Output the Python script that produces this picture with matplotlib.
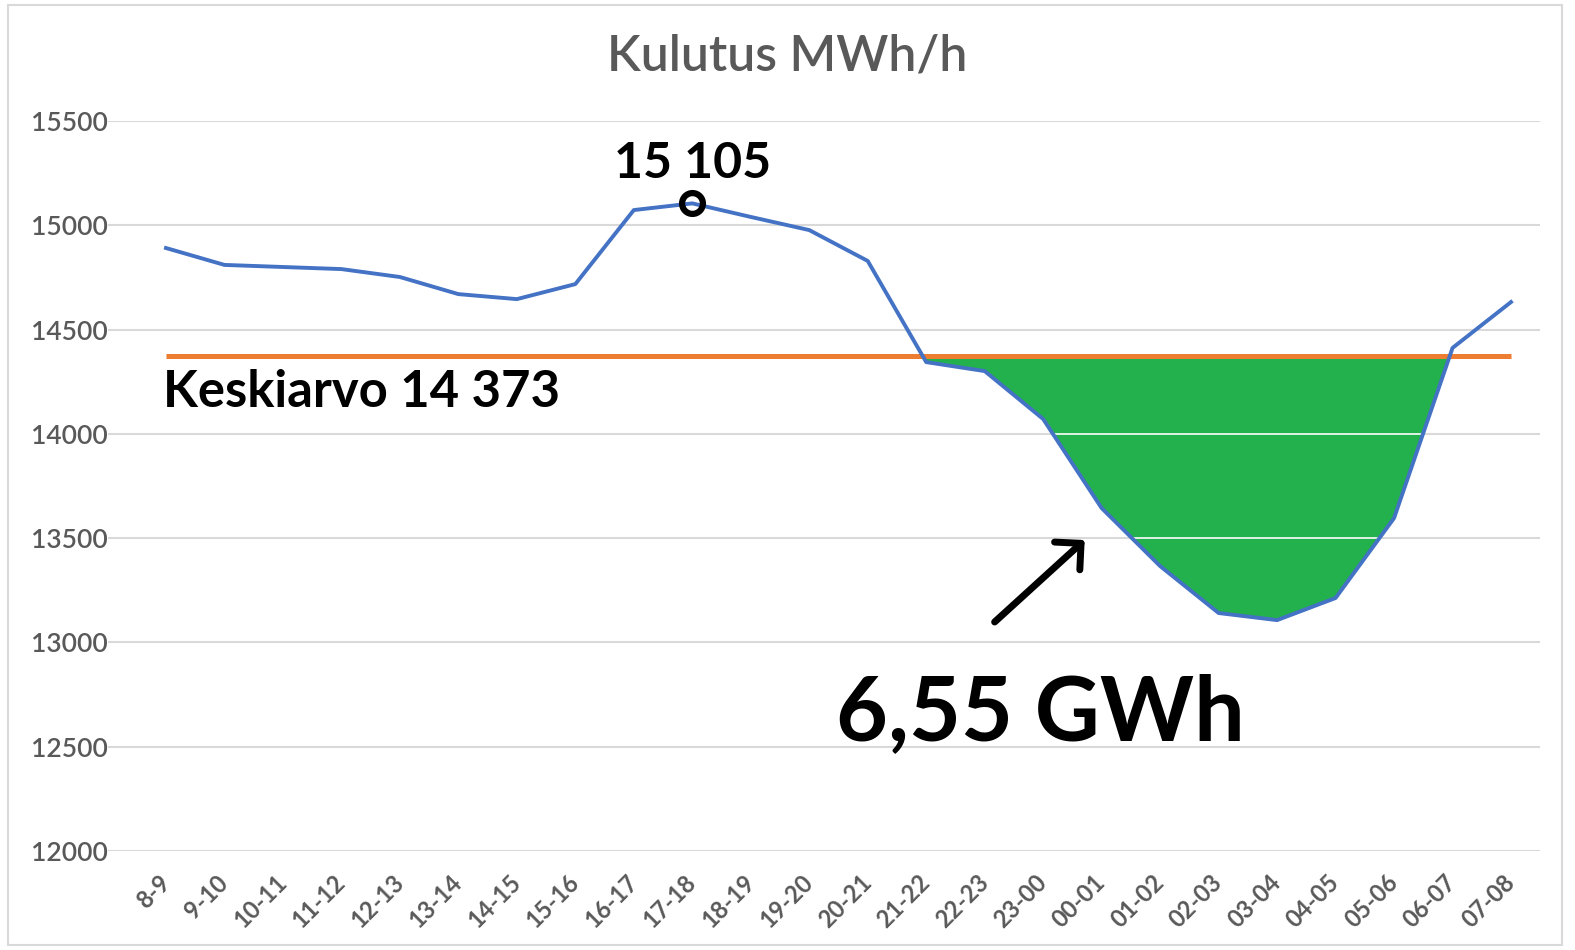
import matplotlib.pyplot as plt
import matplotlib.transforms as mtransforms
from matplotlib.patches import Rectangle

# data
hours = ["8-9", "9-10", "10-11", "11-12", "12-13", "13-14", "14-15", "15-16",
         "16-17", "17-18", "18-19", "19-20", "20-21", "21-22", "22-23", "23-00",
         "00-01", "01-02", "02-03", "03-04", "04-05", "05-06", "06-07", "07-08"]
consumption = [14891, 14810, 14800, 14790, 14752, 14670, 14646, 14718,
               15073, 15105, 15040, 14977, 14829, 14344, 14301, 14071,
               13644, 13366, 13141, 13107, 13213, 13596, 14412, 14632]
mean_value = 14373
y_ticks = [12000, 12500, 13000, 13500, 14000, 14500, 15000, 15500]

TITLE = "Kulutus MWh/h"
PEAK_LABEL = "15 105"
MEAN_LABEL = "Keskiarvo 14 373"
AREA_LABEL = "6,55 GWh"

LINE_COLOR = "#4472C4"
MEAN_COLOR = "#ED7D31"
FILL_COLOR = "#23B14D"
GRID_COLOR = "#d9d9d9"
TICK_COLOR = "#595959"

plt.rcParams["font.family"] = ["Lato", "DejaVu Sans"]

fig = plt.figure(figsize=(15.75, 9.5), dpi=100)
fig.patch.set_facecolor("white")
ax = fig.add_axes([108 / 1575, 1 - 851 / 950, (1540 - 108) / 1575, (851 - 121) / 950])

x = list(range(len(hours)))
n = len(hours)

ax.set_xlim(-(166 - 108) / 58.5, n - 1 + (1540 - 1511) / 58.5)
ax.set_ylim(y_ticks[0], y_ticks[-1])

for t in y_ticks:
    ax.axhline(t, color=GRID_COLOR, linewidth=1.5, zorder=0)

fill = ax.fill_between(x, consumption, mean_value,
                       where=[v < mean_value for v in consumption],
                       interpolate=True, color=FILL_COLOR, linewidth=0, zorder=1)
# gridlines show white through the green area
for t in y_ticks:
    gl = ax.axhline(t, color="white", linewidth=1.2, zorder=1.5)
    gl.set_clip_path(fill.get_paths()[0], transform=ax.transData)

ax.plot([x[0], x[-1]], [mean_value, mean_value], color=MEAN_COLOR, linewidth=3.6,
        solid_capstyle="butt", zorder=2)
ax.plot(x, consumption, color=LINE_COLOR, linewidth=2.8, zorder=3)

peak_idx = consumption.index(max(consumption))
ax.plot(peak_idx, consumption[peak_idx], marker="o", markersize=15,
        markerfacecolor="none", markeredgecolor="black", markeredgewidth=4.5, zorder=4)

ax.text(peak_idx, 15227, PEAK_LABEL, fontsize=36, fontweight="bold",
        color="black", ha="center", va="baseline", zorder=5)
ax.text(-0.05, 14129, MEAN_LABEL, fontsize=36.5, fontweight="bold",
        color="black", ha="left", va="baseline", zorder=5)
ax.text(11.45, 12532, AREA_LABEL, fontsize=64.5, fontweight="bold",
        color="black", ha="left", va="baseline", zorder=5)

ax.annotate("", xy=(15.71, 13491), xytext=(14.17, 13098),
            arrowprops=dict(arrowstyle="->,head_length=1.35,head_width=1.35",
                            color="black", linewidth=5, shrinkA=0, shrinkB=0),
            zorder=5)

ax.set_yticks(y_ticks)
ax.set_yticklabels([str(t) for t in y_ticks], fontsize=19, fontweight="semibold",
                   color=TICK_COLOR)
ax.set_xticks(x)
ax.set_xticklabels(hours, fontsize=17, fontweight="bold", color=TICK_COLOR,
                   rotation=45, ha="right", va="center", rotation_mode="anchor")
shift = mtransforms.ScaledTranslation(6 / 100, 0, fig.dpi_scale_trans)
for lbl in ax.get_xticklabels():
    lbl.set_transform(lbl.get_transform() + shift)
ax.tick_params(axis="both", length=0)
ax.tick_params(axis="y", pad=0)
ax.tick_params(axis="x", pad=20)
for spine in ax.spines.values():
    spine.set_visible(False)

fig.text(0.5, 1 - 56 / 950, TITLE, fontsize=36, fontweight="semibold", color=TICK_COLOR,
         ha="center", va="center")

fig.patches.append(Rectangle((8 / 1575, 5 / 950), (1562 - 8) / 1575, (945 - 5) / 950,
                             transform=fig.transFigure, fill=False,
                             edgecolor=GRID_COLOR, linewidth=1.5))

fig.savefig("out.png", dpi=100, facecolor="white")
